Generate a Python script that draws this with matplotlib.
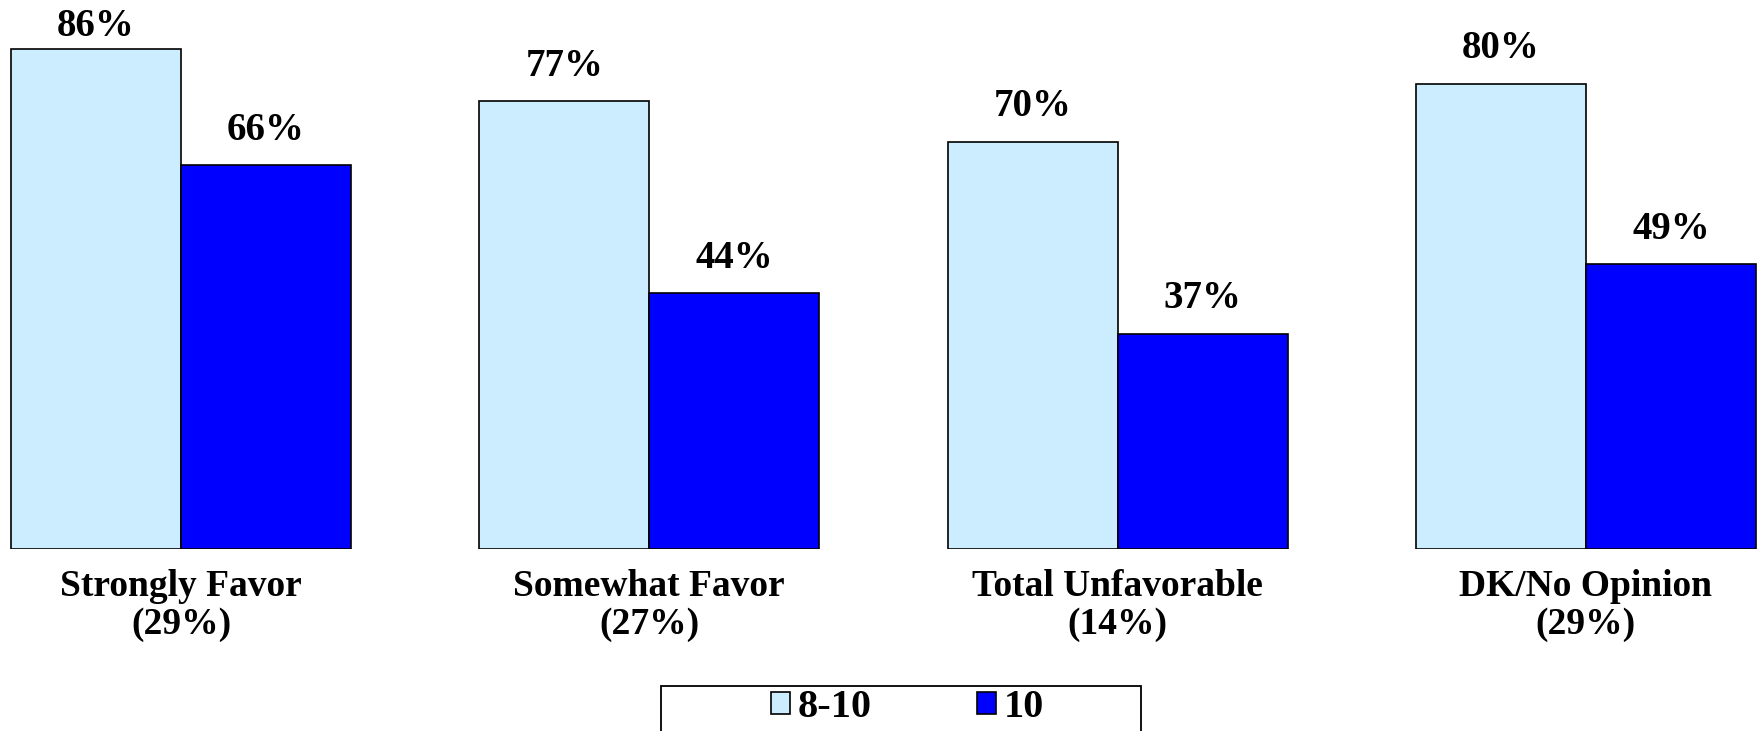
import numpy as np
import matplotlib.pyplot as plt
from matplotlib.patches import Rectangle

categories = ['Strongly Favor\n(29%)', 'Somewhat Favor\n(27%)',
              'Total Unfavorable\n(14%)', 'DK/No Opinion\n(29%)']
series_names = ['8-10', '10']
top_8_10 = [86, 77, 70, 80]
top_10 = [66, 44, 37, 49]
colors = ['#CCECFF', '#0000FF']

plt.rcParams['font.family'] = ['Liberation Serif', 'DejaVu Serif']
plt.rcParams['font.weight'] = 'bold'

fig = plt.figure(figsize=(17.61, 7.31), dpi=100)
ax = fig.add_axes([0, 0.249, 1, 0.751])

x = np.arange(len(categories))
w = 0.363
bars = []
for i, (vals, name) in enumerate(zip([top_8_10, top_10], series_names)):
    b = ax.bar(x + (i - 0.5) * w, vals, w, color=colors[i], edgecolor='black',
               linewidth=1.2, label=name)
    bars.append(b)
    for rect, v in zip(b, vals):
        # labels near the top edge are pulled down so they stay inside
        ax.text(rect.get_x() + rect.get_width() / 2, min(v + 4.4, 88.2), f'{v}%',
                ha='center', va='baseline', fontsize=28, fontweight='bold')

ax.set_xlim(-0.3865, 3.374)
ax.set_ylim(0, 94.43)
ax.axis('off')

for xi, cat in zip(x, categories):
    ax.text(xi, -3.4, cat, ha='center', va='top', fontsize=27,
            fontweight='bold', linespacing=1.1)

leg = fig.legend(handles=bars, labels=series_names, loc='upper left',
                 bbox_to_anchor=(771 / 1761, 1 - 689 / 731), ncol=2,
                 frameon=False, fontsize=29, handlelength=0.47,
                 handleheight=0.47, handletextpad=0.2, columnspacing=2.6,
                 borderpad=0, borderaxespad=0)
fig.patches.append(Rectangle((661 / 1761, -0.05), 480 / 1761, 0.05 + 45 / 731,
                             transform=fig.transFigure, fill=False,
                             edgecolor='black', linewidth=1.3))

fig.savefig('out.png', dpi=100)
